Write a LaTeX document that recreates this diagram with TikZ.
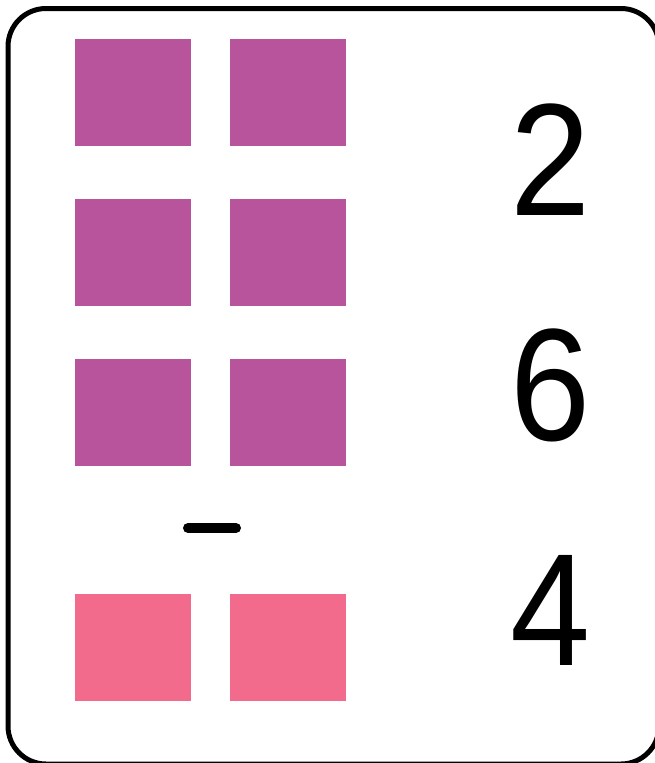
\documentclass[tikz,border=0pt]{standalone}
\usepackage{fontspec}
\setmainfont{Liberation Sans}
\definecolor{tilepurple}{HTML}{B8549B}
\definecolor{tilepink}{HTML}{F26B8C}
\begin{document}
\begin{tikzpicture}[x=1pt,y=-1pt,
  tile/.style={fill=#1,draw=none},
  digit/.style={inner sep=0pt,font=\fontsize{160}{160}\selectfont,text=black}]
\useasboundingbox (0,0) rectangle (655,763);
\clip (0,0) rectangle (655,763);
\draw[line width=5pt,rounded corners=38pt] (8,8.5) rectangle (659,764);
% purple tiles
\foreach \y in {39,199,359}{
  \fill[tilepurple] (75,\y) rectangle ++(116,107);
  \fill[tilepurple] (230,\y) rectangle ++(116,107);
}
% pink tiles
\fill[tilepink] (75,594) rectangle ++(116,107);
\fill[tilepink] (230,594) rectangle ++(116,107);
% minus sign
\coordinate (m1) at (188,528);
\coordinate (m2) at (236,528);
\draw[line width=10pt,line cap=round] (m1) -- (m2);
% digits
\node[digit,xscale=0.9] (d2) at (551,160) {2};
\node[digit,xscale=0.9] (d6) at (551,385) {6};
\node[digit,xscale=0.9] (d4) at (551,610) {4};
\end{tikzpicture}
\end{document}
